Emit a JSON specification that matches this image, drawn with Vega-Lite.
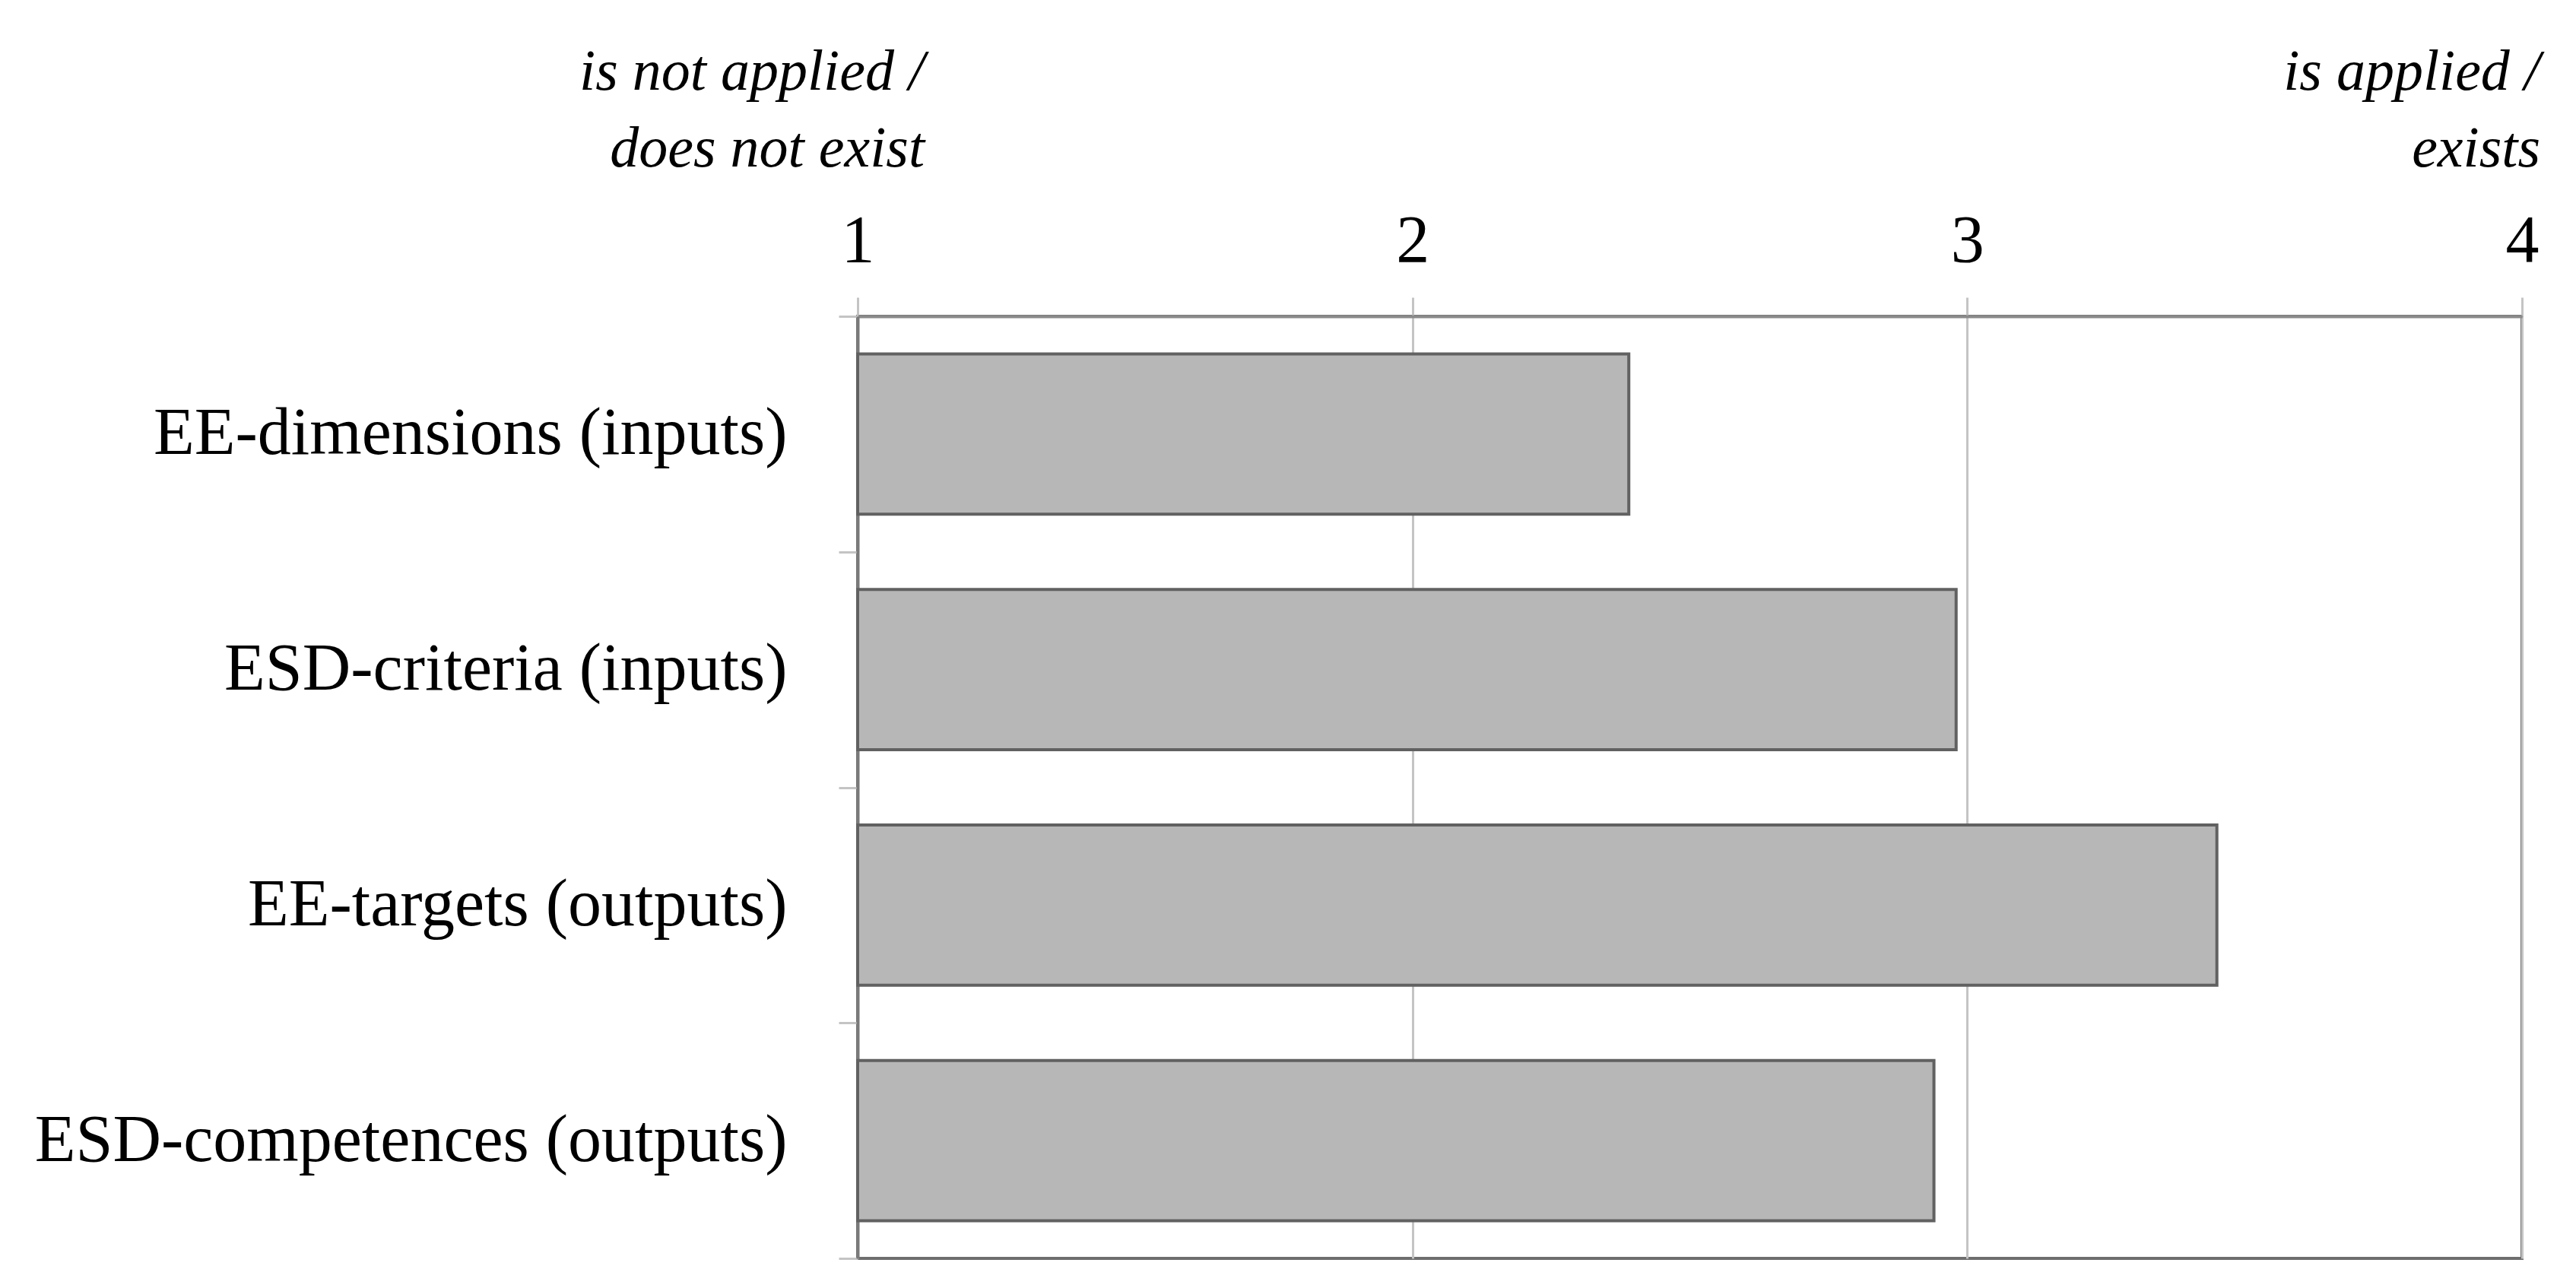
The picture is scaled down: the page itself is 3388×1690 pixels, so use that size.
{
  "$schema": "https://vega.github.io/schema/vega-lite/v6.json",
  "width": 2189,
  "height": 1239,
  "autosize": {"type": "none"},
  "padding": {"left": 1128, "top": 416, "right": 71, "bottom": 35},
  "background": "white",
  "config": {
    "font": "Liberation Serif",
    "view": {"stroke": "#6e6e6e", "strokeWidth": 4}
  },
  "layer": [
    {
      "data": {
        "values": [
          {"item": "EE-dimensions (inputs)", "score": 2.39},
          {"item": "ESD-criteria (inputs)", "score": 2.98},
          {"item": "EE-targets (outputs)", "score": 3.45},
          {"item": "ESD-competences (outputs)", "score": 2.94}
        ]
      },
      "mark": {"type": "bar", "fill": "#b7b7b7", "stroke": "#616161", "strokeWidth": 4, "strokeJoin": "miter", "height": {"band": 0.68}},
      "encoding": {
        "y": {
          "field": "item",
          "type": "nominal",
          "sort": null,
          "scale": {"paddingInner": 0, "paddingOuter": 0},
          "axis": {
            "title": null,
            "tickBand": "extent",
            "tickSize": 25,
            "tickWidth": 3,
            "tickColor": "#c4c4c4",
            "domainColor": "#7a7a7a",
            "domainWidth": 4,
            "labelFont": "Liberation Serif",
            "labelFontSize": 88,
            "labelColor": "#000000",
            "labelPadding": 68,
            "labelLimit": 2000
          }
        },
        "x": {
          "field": "score",
          "type": "quantitative",
          "scale": {"domain": [1, 4], "nice": false, "zero": false},
          "axis": {
            "orient": "top",
            "title": null,
            "values": [1, 2, 3, 4],
            "format": "d",
            "grid": true,
            "gridColor": "#c4c4c4",
            "gridWidth": 3,
            "tickSize": 25,
            "tickWidth": 3,
            "tickColor": "#c4c4c4",
            "domainColor": "#8a8a8a",
            "domainWidth": 4,
            "labelFont": "Liberation Serif",
            "labelFontSize": 88,
            "labelColor": "#000000",
            "labelBaseline": "alphabetic",
            "labelPadding": 48,
            "labelFlush": false
          }
        },
        "x2": {"datum": 1}
      }
    },
    {
      "data": {"values": [{"score": 1, "note": "is not applied /\ndoes not exist"}]},
      "mark": {
        "type": "text",
        "align": "right",
        "baseline": "alphabetic",
        "font": "Liberation Serif",
        "fontStyle": "italic",
        "fontSize": 76,
        "lineHeight": 101,
        "lineBreak": "\n",
        "color": "#000000",
        "dx": 88,
        "dy": -298
      },
      "encoding": {
        "x": {"field": "score", "type": "quantitative"},
        "y": {"value": 0},
        "text": {"field": "note"}
      }
    },
    {
      "data": {"values": [{"score": 4, "note": "is applied /\nexists"}]},
      "mark": {
        "type": "text",
        "align": "right",
        "baseline": "alphabetic",
        "font": "Liberation Serif",
        "fontStyle": "italic",
        "fontSize": 76,
        "lineHeight": 101,
        "lineBreak": "\n",
        "color": "#000000",
        "dx": 24,
        "dy": -298
      },
      "encoding": {
        "x": {"field": "score", "type": "quantitative"},
        "y": {"value": 0},
        "text": {"field": "note"}
      }
    }
  ]
}
